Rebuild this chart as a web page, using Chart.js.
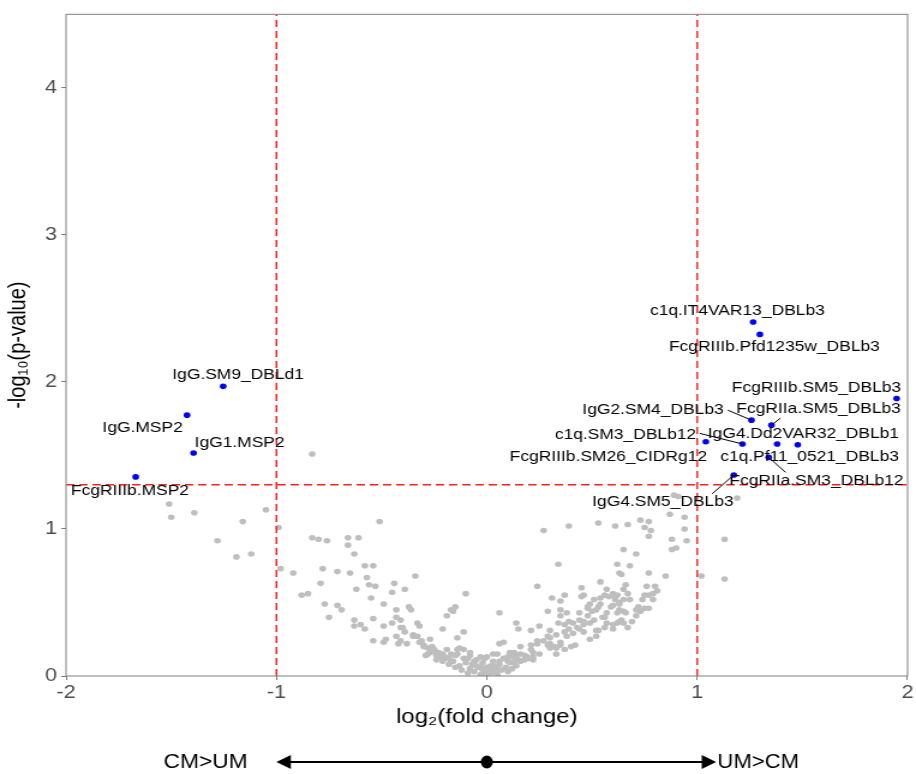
<!DOCTYPE html>
<html lang="en">
<head>
<meta charset="UTF-8">
<title>Volcano plot</title>
<script src="https://cdn.jsdelivr.net/npm/chart.js"></script>
<style>
    body { margin: 0; background: #ffffff; }
    /* the original figure is stretched horizontally, so draw narrow and widen */
    .wrap {
        width: 763px;
        height: 774px;
        transform: scaleX(1.2005);
        transform-origin: 0 0;
    }
</style>
</head>
<body>
<div class="wrap"><canvas id="volcano"></canvas></div>
<script>
// significant antibodies (blue)
const sigNames = ['IgG.SM9_DBLd1', 'IgG.MSP2', 'IgG1.MSP2', 'FcgRIIIb.MSP2',
    'c1q.IT4VAR13_DBLb3', 'FcgRIIIb.Pfd1235w_DBLb3', 'FcgRIIIb.SM5_DBLb3', 'IgG2.SM4_DBLb3',
    'FcgRIIa.SM5_DBLb3', 'c1q.SM3_DBLb12', 'IgG4.Dd2VAR32_DBLb1', 'FcgRIIIb.SM26_CIDRg12',
    'c1q.Pf11_0521_DBLb3', 'FcgRIIa.SM3_DBLb12', 'IgG4.SM5_DBLb3'];
const sigFC = [-1.253, -1.425, -1.394, -1.669, 1.266, 1.298, 1.948, 1.258,
    1.353, 1.215, 1.380, 1.041, 1.478, 1.340, 1.174];
const sigP = [1.971, 1.774, 1.517, 1.354, 2.407, 2.323, 1.887, 1.740,
    1.706, 1.578, 1.578, 1.593, 1.573, 1.487, 1.367];

// where ggrepel put the labels (data units), and where a leader line leaves the label
const labelX = [-1.182, -1.636, -1.175, -1.696, 1.191, 1.367, 1.567, 0.790,
    1.577, 0.659, 1.505, 0.578, 1.534, 1.567, 0.837];
const labelY = [2.047, 1.688, 1.586, 1.261, 2.481, 2.239, 1.961, 1.808,
    1.815, 1.641, 1.645, 1.487, 1.487, 1.329, 1.182];
const leaderFrom = {7: [1.145, 1.808], 8: [1.396, 1.754], 9: [1.012, 1.650],
    13: [1.420, 1.385], 14: [1.071, 1.239]};

// thresholds
const fcCut = [-1, 1];
const pCut = 1.301;

// x and y ticks
const xTicks = [-2, -1, 0, 1, 2];
const yTicks = [0, 1, 2, 3, 4];

// not significant (grey): [log2 FC, -log10 p]
const greyPoints = [
    [-1.51, 1.17], [-1.50, 1.08], [-1.39, 1.11], [-1.28, 0.92], [-1.19, 0.81], [-1.12, 0.83],
    [-1.16, 1.05], [-1.05, 1.13], [-0.99, 1.01], [-0.98, 0.73], [-0.83, 1.51], [-0.51, 1.05],
    [-0.83, 0.94], [-0.80, 0.93], [-0.76, 0.92], [-0.66, 0.94], [-0.61, 0.94], [-0.66, 0.89],
    [-0.63, 0.83], [-0.58, 0.75], [-0.54, 0.75], [-0.57, 0.67], [-0.92, 0.70], [-0.78, 0.73],
    [-0.71, 0.71], [-0.65, 0.70], [-0.79, 0.63], [-0.88, 0.55], [-0.85, 0.56], [-0.77, 0.49],
    [-0.75, 0.40], [-0.71, 0.48], [-0.69, 0.45], [-0.62, 0.59], [-0.56, 0.62], [-0.53, 0.61],
    [-0.55, 0.53], [-0.63, 0.38], [-0.63, 0.34], [-0.60, 0.35], [-0.58, 0.32], [-0.54, 0.39],
    [-0.54, 0.24], [-0.49, 0.49], [-0.49, 0.34], [-0.48, 0.25], [-0.49, 0.23], [-0.44, 0.63],
    [-0.45, 0.57], [-0.39, 0.59], [-0.34, 0.68], [-0.43, 0.45], [-0.43, 0.40], [-0.45, 0.36],
    [-0.40, 0.33], [-0.37, 0.47], [-0.36, 0.45], [-0.39, 0.30], [-0.33, 0.36], [-0.32, 0.34],
    [-0.43, 0.27], [-0.42, 0.22], [-0.38, 0.22], [-0.35, 0.28], [-0.31, 0.24], [-0.27, 0.25],
    [-0.30, 0.20], [-0.26, 0.20], [-0.28, 0.15], [-0.24, 0.16], [-0.21, 0.32], [-0.19, 0.41],
    [-0.17, 0.45], [-0.15, 0.47], [-0.10, 0.56], [-0.14, 0.26], [-0.11, 0.30], [-0.20, 0.13],
    [-0.17, 0.15], [-0.21, 0.10], [-0.16, 0.10], [-0.11, 0.18], [-0.08, 0.14], [-0.13, 0.07],
    [-0.08, 0.05], [-0.03, 0.13], [-0.02, 0.04], [0.02, 0.07], [0.05, 0.15], [0.06, 0.22],
    [0.06, 0.43], [0.05, 0.04], [-0.41, 0.38], [-0.41, 0.24], [-0.32, 0.23], [-0.28, 0.19],
    [-0.16, 0.44], [-0.13, 0.19], [0.14, 0.36], [0.15, 0.32], [0.14, 0.14], [0.15, 0.11],
    [-0.15, 0.06], [-0.12, 0.04], [-0.10, 0.09], [-0.09, 0.02], [-0.07, 0.08], [-0.06, 0.03],
    [-0.05, 0.11], [-0.04, 0.06], [-0.03, 0.01], [-0.02, 0.09], [-0.01, 0.03], [0.00, 0.01],
    [0.01, 0.05], [0.02, 0.02], [0.03, 0.10], [0.04, 0.06], [0.05, 0.01], [0.06, 0.08],
    [0.07, 0.04], [0.08, 0.12], [0.09, 0.06], [0.10, 0.03], [0.11, 0.09], [0.12, 0.05],
    [0.13, 0.12], [0.14, 0.07], [-0.18, 0.08], [-0.20, 0.12], [-0.22, 0.14], [-0.24, 0.11],
    [-0.26, 0.17], [0.16, 0.10], [0.18, 0.14], [0.20, 0.12], [0.22, 0.16], [-0.11, 0.12],
    [-0.14, 0.15], [0.00, 0.06], [-0.01, 0.12], [0.03, 0.03], [-0.29, 0.14], [-0.27, 0.16],
    [-0.25, 0.18], [-0.24, 0.14], [-0.23, 0.16], [-0.22, 0.13], [-0.21, 0.15], [-0.19, 0.18],
    [-0.18, 0.12], [-0.17, 0.10], [-0.15, 0.14], [-0.14, 0.18], [-0.09, 0.12], [-0.08, 0.16],
    [-0.06, 0.10], [-0.05, 0.07], [0.00, 0.05], [0.02, 0.06], [0.03, 0.07], [0.06, 0.10],
    [0.10, 0.13], [0.11, 0.14], [0.13, 0.16], [-0.41, 0.33], [-0.35, 0.27], [-0.33, 0.27],
    [-0.30, 0.21],
    [0.34, 0.76], [0.62, 0.76], [0.68, 0.75], [0.63, 0.70], [0.64, 0.69], [0.24, 0.61],
    [0.54, 0.64], [0.45, 0.60], [0.46, 0.55], [0.66, 0.62], [0.65, 0.59], [0.31, 0.53],
    [0.37, 0.55], [0.35, 0.51], [0.45, 0.54], [0.49, 0.49], [0.48, 0.46], [0.68, 0.52],
    [0.71, 0.45], [0.35, 0.45], [0.35, 0.41], [0.29, 0.44], [0.44, 0.43], [0.48, 0.41],
    [0.50, 0.44], [0.89, 1.23], [0.91, 1.22], [0.87, 1.10], [0.94, 1.08], [0.94, 1.00],
    [0.95, 0.92], [0.73, 1.06], [0.77, 1.05], [0.75, 1.01], [0.78, 0.99], [0.77, 0.95],
    [0.53, 1.04], [0.61, 1.02], [0.67, 1.03], [0.88, 0.93], [0.88, 0.86], [0.90, 0.87],
    [1.19, 1.21], [1.13, 0.93], [1.02, 0.68], [1.13, 0.66], [0.65, 0.86], [0.71, 0.83],
    [0.77, 0.70], [0.85, 0.68], [0.27, 0.99], [0.39, 1.02], [0.80, 0.61], [0.81, 0.58],
    [0.75, 0.55], [0.74, 0.52], [0.79, 0.52], [0.60, 0.55], [0.58, 0.54], [0.67, 0.56],
    [0.63, 0.49], [0.72, 0.47], [0.73, 0.44], [0.71, 0.41], [0.65, 0.44], [0.62, 0.43],
    [0.59, 0.47], [0.54, 0.49], [0.52, 0.45], [0.56, 0.40], [0.64, 0.38], [0.69, 0.37],
    [0.60, 0.35], [0.56, 0.33], [0.51, 0.38], [0.46, 0.37], [0.57, 0.59], [0.60, 0.56],
    [0.76, 0.61], [0.79, 0.56], [0.77, 0.55], [0.21, 0.31], [0.25, 0.34], [0.38, 0.43],
    [0.48, 0.47], [0.51, 0.52], [0.53, 0.47], [0.55, 0.40], [0.57, 0.43], [0.75, 0.46],
    [0.77, 0.46], [0.00, 0.13], [0.03, 0.15], [0.08, 0.23], [0.11, 0.16], [0.16, 0.20],
    [0.21, 0.21], [0.24, 0.24], [0.29, 0.27], [0.30, 0.22], [0.33, 0.19], [0.35, 0.21],
    [0.38, 0.27], [0.41, 0.29], [0.44, 0.32], [0.46, 0.30], [0.49, 0.36], [0.52, 0.31],
    [0.57, 0.36], [0.60, 0.32], [0.63, 0.37], [0.67, 0.33], [-0.03, 0.06], [0.05, 0.05],
    [0.10, 0.10], [0.13, 0.09], [0.18, 0.11], [0.22, 0.13], [0.25, 0.15], [0.30, 0.19],
    [0.33, 0.15], [0.37, 0.18], [0.40, 0.20], [0.54, 0.53], [0.56, 0.55], [0.61, 0.52],
    [0.62, 0.55], [0.63, 0.50], [0.65, 0.52], [0.60, 0.48], [0.63, 0.45], [0.66, 0.43],
    [0.62, 0.36], [0.65, 0.36], [0.14, 0.11], [0.16, 0.15], [0.19, 0.13], [0.21, 0.18],
    [0.22, 0.11], [0.24, 0.22], [0.27, 0.24], [0.29, 0.21], [0.30, 0.26], [0.32, 0.20],
    [0.33, 0.28], [0.35, 0.23], [0.37, 0.30], [0.39, 0.32], [0.41, 0.36], [0.43, 0.33],
    [0.44, 0.38], [0.46, 0.35], [0.42, 0.21], [0.49, 0.25], [0.52, 0.27], [0.53, 0.31],
    [0.30, 0.31], [0.34, 0.36], [0.37, 0.35], [0.39, 0.37]
];

const FONT = '"Liberation Sans", Arial, sans-serif';
const AXIS_GREY = '#7f7f7f';

// gene labels + leader lines
const labelPlugin = {
    id: 'geneLabels',
    afterDatasetsDraw(chart) {
        const { ctx, scales: { x, y } } = chart;
        ctx.save();
        ctx.strokeStyle = '#000000';
        ctx.lineWidth = 1;
        Object.keys(leaderFrom).forEach(k => {
            const i = Number(k);
            ctx.beginPath();
            ctx.moveTo(x.getPixelForValue(leaderFrom[k][0]), y.getPixelForValue(leaderFrom[k][1]));
            ctx.lineTo(x.getPixelForValue(sigFC[i]), y.getPixelForValue(sigP[i]));
            ctx.stroke();
        });
        ctx.fillStyle = '#000000';
        ctx.font = '14.5px ' + FONT;
        ctx.textAlign = 'center';
        ctx.textBaseline = 'middle';
        sigNames.forEach((name, i) => {
            ctx.fillText(name, x.getPixelForValue(labelX[i]), y.getPixelForValue(labelY[i]));
        });
        ctx.restore();
    }
};

// narrow text: squeeze to a given width
function fitText(ctx, txt, cx, cy, w) {
    const m = ctx.measureText(txt).width;
    ctx.save();
    ctx.translate(cx, cy);
    ctx.scale(w / m, 1);
    ctx.fillText(txt, 0, 0);
    ctx.restore();
}

// panel box + direction arrow under the axis
const framePlugin = {
    id: 'frame',
    afterDraw(chart) {
        const { ctx, chartArea: a, scales: { x } } = chart;
        ctx.save();
        ctx.strokeStyle = AXIS_GREY;
        ctx.lineWidth = 1;
        ctx.strokeRect(a.left, a.top, a.right - a.left, a.bottom - a.top);

        const ay = 762;
        const xl = x.getPixelForValue(-1);
        const xr = x.getPixelForValue(1.09);
        const xm = x.getPixelForValue(0);
        ctx.strokeStyle = '#000000';
        ctx.fillStyle = '#000000';
        ctx.lineWidth = 2;
        ctx.beginPath();
        ctx.moveTo(xl + 4, ay);
        ctx.lineTo(xr - 4, ay);
        ctx.stroke();
        ctx.beginPath();
        ctx.moveTo(xl, ay);
        ctx.lineTo(xl + 12, ay - 7);
        ctx.lineTo(xl + 12, ay + 7);
        ctx.closePath();
        ctx.fill();
        ctx.beginPath();
        ctx.moveTo(xr, ay);
        ctx.lineTo(xr - 12, ay - 7);
        ctx.lineTo(xr - 12, ay + 7);
        ctx.closePath();
        ctx.fill();
        ctx.beginPath();
        ctx.ellipse(xm, ay, 5, 6.5, 0, 0, Math.PI * 2);
        ctx.fill();

        ctx.font = '20px ' + FONT;
        ctx.textBaseline = 'middle';
        ctx.textAlign = 'center';
        fitText(ctx, 'CM>UM', 171.2, ay, 70);
        fitText(ctx, 'UM>CM', 631.6, ay, 68);
        ctx.restore();
    }
};

const threshLine = (pts) => ({
    data: pts,
    showLine: true,
    borderColor: '#ff2020',
    borderWidth: 1.5,
    borderDash: [7, 4],
    pointRadius: 0,
    pointHoverRadius: 0
});

new Chart(document.getElementById('volcano'), {
    type: 'scatter',
    data: {
        datasets: [
            threshLine([{ x: fcCut[0], y: 0 }, { x: fcCut[0], y: 4.5 }]),
            threshLine([{ x: fcCut[1], y: 0 }, { x: fcCut[1], y: 4.5 }]),
            threshLine([{ x: -2, y: pCut }, { x: 2, y: pCut }]),
            {
                data: sigFC.map((v, i) => ({ x: v, y: sigP[i] })),
                backgroundColor: '#0000ff',
                borderWidth: 0,
                pointRadius: 2.8
            },
            {
                data: greyPoints.map(p => ({ x: p[0], y: p[1] })),
                backgroundColor: '#bebebe',
                borderWidth: 0,
                pointRadius: 2.8
            }
        ]
    },
    options: {
        responsive: true,
        maintainAspectRatio: false,
        animation: false,
        layout: { padding: { top: 12, right: 6.5, left: 0, bottom: 0 } },
        plugins: {
            legend: { display: false },
            tooltip: { enabled: false }
        },
        scales: {
            x: {
                type: 'linear',
                min: -2,
                max: 2,
                afterFit: s => { s.height = 98; },
                afterBuildTicks: s => { s.ticks = xTicks.map(v => ({ value: v })); },
                grid: { drawOnChartArea: false, drawTicks: true, tickLength: 4, color: AXIS_GREY },
                border: { display: false },
                ticks: { color: '#4d4d4d', font: { family: FONT, size: 18 }, padding: 2 },
                title: {
                    display: true,
                    text: 'log\u2082(fold change)',
                    color: '#000000',
                    font: { family: FONT, size: 20 },
                    padding: { top: 0, bottom: 45 }
                }
            },
            y: {
                type: 'linear',
                min: 0,
                max: 4.5,
                afterFit: s => { s.width = 55; },
                afterBuildTicks: s => { s.ticks = yTicks.map(v => ({ value: v })); },
                grid: { drawOnChartArea: false, drawTicks: true, tickLength: 4, color: AXIS_GREY },
                border: { display: false },
                ticks: { color: '#4d4d4d', font: { family: FONT, size: 18 }, padding: 3.5 },
                title: {
                    display: true,
                    text: '-log\u2081\u2080(p-value)',
                    color: '#000000',
                    font: { family: FONT, size: 20 },
                    padding: { top: 3, bottom: 0 }
                }
            }
        }
    },
    plugins: [labelPlugin, framePlugin]
});
</script>
</body>
</html>
